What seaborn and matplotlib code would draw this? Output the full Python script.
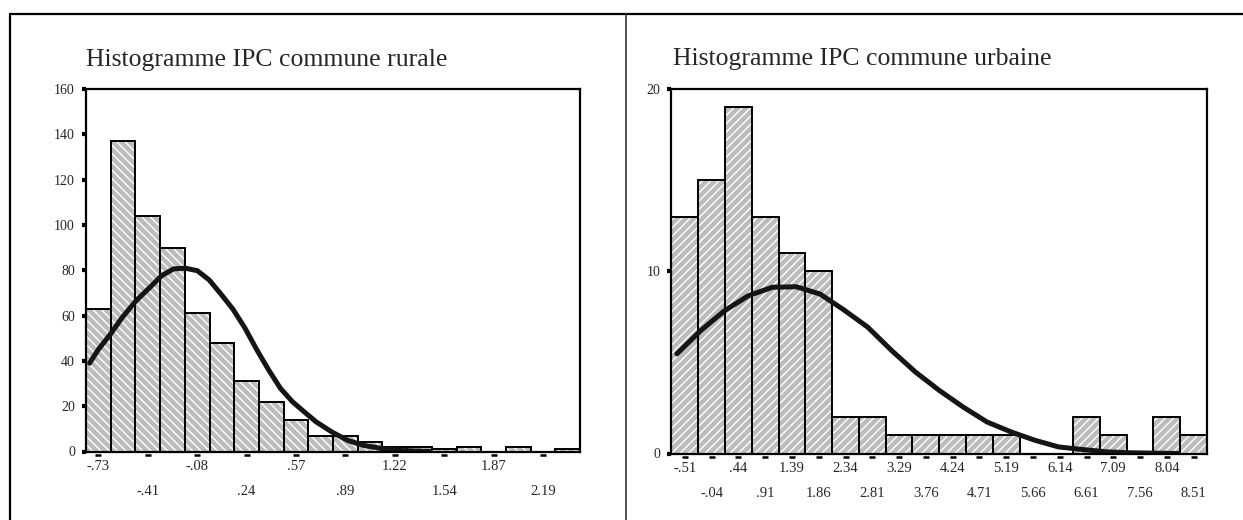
import matplotlib
matplotlib.use("Agg")
import matplotlib.pyplot as plt
import seaborn as sns
from matplotlib.lines import Line2D

# ---- data ----
# rural communes: bin centres (width .1625) and counts
rural_centres = [-0.7325, -0.5700, -0.4075, -0.2450, -0.0825, 0.0800, 0.2425, 0.4050,
                 0.5675, 0.7300, 0.8925, 1.0550, 1.2175, 1.3800, 1.5425, 1.7050,
                 1.8675, 2.0300, 2.1925, 2.3550]
rural_counts = [63, 137, 104, 90, 61, 48, 31, 22, 14, 7, 7, 4, 2, 2, 1, 2, 0, 2, 0, 1]
rural_width = 0.1625
rural_labels = ['-.73', '-.41', '-.08', '.24', '.57', '.89', '1.22', '1.54', '1.87', '2.19']
rural_curve_x = [-0.790, -0.733, -0.654, -0.576, -0.485, -0.394, -0.316, -0.238, -0.160,
                 -0.081, -0.003, 0.075, 0.153, 0.231, 0.309, 0.387, 0.465, 0.544, 0.622,
                 0.700, 0.804, 0.908, 1.012, 1.143, 1.273, 1.455]
rural_curve_y = [39.0, 45.0, 51.7, 59.1, 66.5, 72.4, 77.6, 80.6, 80.9, 79.8, 75.7, 69.4,
                 62.8, 54.6, 45.0, 36.1, 27.9, 22.0, 17.5, 13.1, 8.6, 4.9, 2.7, 1.2, 0.4, 0.0]

# urban communes: bin centres (width .475) and counts
urban_centres = [-0.5125, -0.0375, 0.4375, 0.9125, 1.3875, 1.8625, 2.3375, 2.8125,
                 3.2875, 3.7625, 4.2375, 4.7125, 5.1875, 5.6625, 6.1375, 6.6125,
                 7.0875, 7.5625, 8.0375, 8.5125]
urban_counts = [13, 15, 19, 13, 11, 10, 2, 2, 1, 1, 1, 1, 1, 0, 0, 2, 1, 0, 2, 1]
urban_width = 0.475
urban_labels = ['-.51', '-.04', '.44', '.91', '1.39', '1.86', '2.34', '2.81', '3.29', '3.76',
                '4.24', '4.71', '5.19', '5.66', '6.14', '6.61', '7.09', '7.56', '8.04', '8.51']
urban_curve_x = [-0.654, -0.230, 0.193, 0.616, 1.039, 1.462, 1.885, 2.308, 2.732, 3.155,
                 3.578, 4.001, 4.424, 4.847, 5.270, 5.693, 6.117, 6.540, 6.963, 7.386, 8.232]
urban_curve_y = [5.47, 6.75, 7.84, 8.66, 9.12, 9.15, 8.75, 7.88, 6.93, 5.65, 4.47, 3.46,
                 2.55, 1.73, 1.19, 0.73, 0.36, 0.22, 0.09, 0.04, 0.0]

sns.set_theme(style="white")
plt.rcParams['font.family'] = ['Liberation Serif', 'DejaVu Serif']
plt.rcParams['hatch.linewidth'] = 1.0

fig = plt.figure(figsize=(12.43, 5.20), dpi=100)
W, H = 1243, 520
ax1 = fig.add_axes([86 / W, 68.5 / H, 494 / W, 362.5 / H])
ax2 = fig.add_axes([671.5 / W, 66.5 / H, 535.5 / W, 364.5 / H])


def draw_panel(ax, centres, counts, width, hatch, cx, cy, tick_pos, labels, ymax, yticks):
    lo = centres[0] - width / 2
    hi = centres[-1] + width / 2
    # hatched grey fill (white hatch lines), then black outlines on top
    sns.histplot(x=centres, weights=counts, bins=len(centres), binrange=(lo, hi), ax=ax,
                 color='#bcbcbc', edgecolor='white', linewidth=0, hatch=hatch, alpha=1)
    sns.histplot(x=centres, weights=counts, bins=len(centres), binrange=(lo, hi), ax=ax,
                 fill=False, color='black', linewidth=1.4)
    sns.lineplot(x=cx, y=cy, ax=ax, color='#151515', linewidth=3.6)

    ax.set_xlim(lo, hi)
    ax.set_ylim(0, ymax)
    ax.set_xlabel('')
    ax.set_ylabel('')

    # two rows of tick labels
    ax.set_xticks(tick_pos[::2])
    ax.set_xticklabels(labels[::2])
    ax.set_xticks(tick_pos[1::2], minor=True)
    ax.set_xticklabels(labels[1::2], minor=True)
    ax.tick_params(axis='x', which='major', length=0, pad=6, labelsize=10.5)
    ax.tick_params(axis='x', which='minor', length=0, pad=24, labelsize=10.5)
    # little dashes under the axis
    ax.plot(tick_pos, [-0.009] * len(tick_pos), transform=ax.get_xaxis_transform(),
            ls='none', marker='_', ms=4, mew=1.8, color='black', clip_on=False)

    ax.set_yticks(yticks)
    ax.tick_params(axis='y', direction='out', length=3, width=3, pad=5, labelsize=10,
                   left=True, color='black')
    for s in ax.spines.values():
        s.set_linewidth(1.6)
        s.set_color('black')


draw_panel(ax1, rural_centres, rural_counts, rural_width, '\\\\\\\\',
           rural_curve_x, rural_curve_y, rural_centres[::2], rural_labels,
           160, [0, 20, 40, 60, 80, 100, 120, 140, 160])
draw_panel(ax2, urban_centres, urban_counts, urban_width, '////',
           urban_curve_x, urban_curve_y, urban_centres, urban_labels,
           20, [0, 10, 20])

fig.text(86 / W, 1 - 66 / H, 'Histogramme IPC commune rurale', fontsize=18.5, va='baseline')
fig.text(673 / W, 1 - 65 / H, 'Histogramme IPC commune urbaine', fontsize=18.5, va='baseline')

# table frame around the two charts
top = 1 - 14 / H
fig.add_artist(Line2D([9.5 / W, 1], [top, top], color='black', lw=1.6))
fig.add_artist(Line2D([9.5 / W, 9.5 / W], [0, top], color='black', lw=1.6))
fig.add_artist(Line2D([626 / W, 626 / W], [0, top], color='#333333', lw=1.2))

plt.savefig("out.png", dpi=100)
